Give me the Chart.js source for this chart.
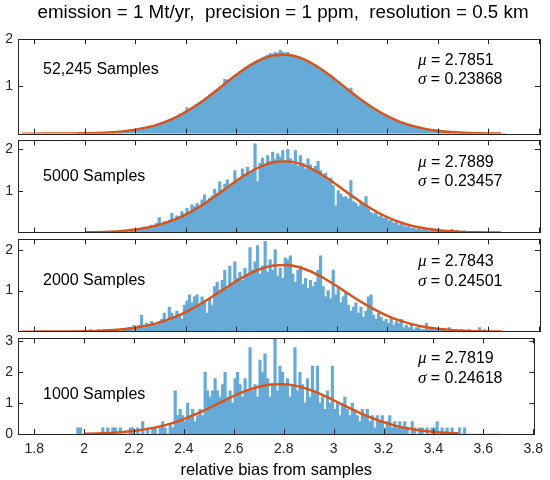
<!DOCTYPE html>
<html>
<head>
<meta charset="utf-8">
<script src="https://cdn.jsdelivr.net/npm/chart.js@4.4.1/dist/chart.umd.min.js"></script>
<style>
  html, body { margin: 0; padding: 0; background: #fff; }
  #wrap { position: relative; width: 550px; height: 480px; overflow: hidden; }
  #wrap canvas { position: absolute; left: 0; }
</style>
</head>
<body>
<div id="wrap">
  <canvas id="p1" width="550" height="147" style="top:0px"></canvas>
  <canvas id="p2" width="550" height="119" style="top:127px"></canvas>
  <canvas id="p3" width="550" height="119" style="top:226px"></canvas>
  <canvas id="p4" width="550" height="155" style="top:325px"></canvas>
</div>
<script>
// ── data ───────────────────────────────────────────────────────────────────
const titleText = 'emission = 1 Mt/yr,  precision = 1 ppm,  resolution = 0.5 km';
const xTitle = 'relative bias from samples';
const sampleLabels = ['52,245 Samples', '5000 Samples', '2000 Samples', '1000 Samples'];
const muText = ['2.7851', '2.7889', '2.7843', '2.7819'];
const sigmaText = ['0.23868', '0.23457', '0.24501', '0.24618'];
const xTicks = [1.8, 2, 2.2, 2.4, 2.6, 2.8, 3, 3.2, 3.4, 3.6, 3.8];

// histogram bins: 0.01 wide, first centre 1.975
const binFirst = 1.975, binStep = 0.01;

const hist52245 = [
  0, 0.01, 0.01, 0.01, 0.01, 0.01, 0.01, 0.02, 0.01, 0.02,
  0.02, 0.02, 0.03, 0.03, 0.03, 0.04, 0.04, 0.05, 0.05, 0.06,
  0.07, 0.07, 0.08, 0.09, 0.10, 0.11, 0.12, 0.13, 0.15, 0.16,
  0.17, 0.19, 0.21, 0.22, 0.24, 0.27, 0.29, 0.31, 0.34, 0.36,
  0.39, 0.42, 0.46, 0.55, 0.51, 0.55, 0.58, 0.62, 0.66, 0.70,
  0.73, 0.77, 0.82, 0.86, 0.90, 0.94, 0.98, 1.02, 1.15, 1.13,
  1.15, 1.19, 1.23, 1.27, 1.31, 1.35, 1.39, 1.43, 1.46, 1.49,
  1.52, 1.55, 1.57, 1.60, 1.63, 1.66, 1.69, 1.68, 1.72, 1.70,
  1.76, 1.72, 1.70, 1.72, 1.67, 1.66, 1.64, 1.61, 1.59, 1.57,
  1.55, 1.52, 1.49, 1.46, 1.42, 1.39, 1.35, 1.31, 1.28, 1.24,
  1.21, 1.17, 1.13, 1.09, 1.05, 1.00, 0.96, 0.92, 0.96, 0.83,
  0.79, 0.75, 0.71, 0.67, 0.64, 0.60, 0.56, 0.53, 0.49, 0.46,
  0.43, 0.40, 0.37, 0.35, 0.32, 0.30, 0.28, 0.26, 0.24, 0.22,
  0.20, 0.18, 0.17, 0.15, 0.14, 0.13, 0.11, 0.10, 0.09, 0.08,
  0.08, 0.07, 0.06, 0.06, 0.05, 0.05, 0.04, 0.04, 0.03, 0.03,
  0.03, 0.02, 0.02, 0.02, 0.02, 0.01, 0.01, 0.01, 0.01, 0.01,
  0.01, 0.01, 0.01, 0, 0, 0, 0, 0, 0, 0
];

const hist5000 = [
  0, 0, 0, 0, 0, 0, 0, 0, 0, 0,
  0, 0, 0, 0, 0, 0, 0.02, 0, 0.02, 0.04,
  0.02, 0.06, 0.04, 0.08, 0.10, 0.06, 0.14, 0.12, 0.10, 0.18,
  0.14, 0.22, 0.36, 0.18, 0.26, 0.24, 0.30, 0.46, 0.28, 0.40,
  0.36, 0.50, 0.44, 0.58, 0.50, 0.66, 0.62, 0.70, 0.64, 0.78,
  0.90, 0.72, 0.82, 0.88, 1.04, 0.94, 1.22, 1.02, 1.16, 1.26,
  1.10, 1.18, 1.48, 1.24, 1.30, 1.52, 1.38, 1.56, 1.42, 1.46,
  2.12, 1.22, 1.66, 1.78, 1.60, 1.84, 1.70, 1.92, 1.74, 1.88,
  1.80, 1.96, 1.70, 1.98, 1.76, 1.64, 1.96, 1.58, 1.84, 1.66,
  1.52, 1.76, 1.62, 1.50, 1.58, 1.70, 1.48, 1.36, 1.42, 1.24,
  1.30, 1.12, 0.64, 1.00, 0.92, 0.84, 0.86, 0.80, 1.24, 0.74,
  0.70, 0.62, 0.72, 0.66, 0.86, 0.56, 0.48, 0.44, 0.50, 0.38,
  0.42, 0.34, 0.36, 0.28, 0.30, 0.22, 0.26, 0.18, 0.20, 0.16,
  0.14, 0.18, 0.10, 0.12, 0.08, 0.10, 0.06, 0.08, 0.06, 0.04,
  0.06, 0.04, 0.06, 0.02, 0.04, 0.04, 0.02, 0.04, 0.08, 0.02,
  0.04, 0.02, 0.02, 0.04, 0, 0.02, 0.02, 0, 0.02, 0,
  0.02, 0, 0, 0, 0, 0, 0, 0, 0, 0
];

const hist2000 = [
  0, 0, 0, 0, 0, 0.05, 0, 0, 0.05, 0,
  0.05, 0, 0, 0, 0.05, 0, 0, 0, 0.05, 0.05,
  0.10, 0.05, 0.15, 0.10, 0.15, 0.40, 0.10, 0.20, 0.15, 0.25,
  0.20, 0.15, 0.25, 0.30, 0.45, 0.30, 0.60, 0.45, 0.35, 0.50,
  0.40, 0.30, 0.65, 0.75, 0.90, 0.70, 0.85, 0.90, 0.65, 0.85,
  0.75, 0.45, 0.80, 0.65, 1.10, 1.20, 1.00, 1.25, 1.50, 1.05,
  1.60, 1.15, 1.70, 1.30, 1.45, 1.25, 1.55, 1.35, 2.05, 1.50,
  1.70, 2.10, 1.40, 1.60, 2.20, 1.45, 1.75, 1.50, 2.00, 1.35,
  1.55, 1.30, 1.80, 1.75, 1.85, 1.40, 1.20, 1.50, 1.60, 1.15,
  1.30, 1.05, 1.25, 1.10, 1.20, 1.50, 1.85, 1.10, 0.85, 1.00,
  0.80, 1.50, 0.90, 1.05, 0.70, 0.85, 0.95, 0.65, 0.50, 0.60,
  0.70, 0.45, 0.60, 0.35, 0.50, 0.85, 0.90, 0.40, 0.30, 0.45,
  0.35, 0.25, 0.30, 0.20, 0.35, 0.15, 0.25, 0.20, 0.30, 0.10,
  0.15, 0.10, 0.20, 0.05, 0.10, 0.10, 0.05, 0.05, 0.20, 0.05,
  0.10, 0.05, 0.05, 0, 0.05, 0.05, 0, 0.10, 0.05, 0,
  0.05, 0, 0.05, 0, 0, 0.05, 0, 0, 0, 0.10,
  0, 0.05, 0, 0, 0, 0, 0, 0, 0, 0
];

const hist1000 = [
  0.2, 0.2, 0, 0, 0, 0, 0, 0, 0, 0,
  0.2, 0, 0.2, 0, 0.2, 0.2, 0, 0.2, 0, 0,
  0, 0.2, 0.2, 0, 0.2, 0, 0.4, 0, 0.2, 0,
  0.2, 0.2, 0, 0.2, 0.4, 0.2, 0, 0.3, 0.2, 1.4,
  0.6, 0.8, 0.6, 0.4, 1.0, 0.6, 0.8, 0.4, 0.6, 0.8,
  0.6, 2.0, 1.4, 1.2, 1.4, 1.8, 1.4, 1.2, 1.6, 2.0,
  1.2, 1.4, 1.0, 1.8, 2.0, 1.6, 1.2, 1.8, 1.4, 2.8,
  1.4, 1.6, 1.2, 2.4, 2.0, 2.6, 1.8, 1.2, 1.6, 3.1,
  1.4, 2.2, 2.0, 1.6, 1.8, 1.2, 1.6, 2.8, 1.4, 2.0,
  1.6, 1.0, 1.8, 1.2, 2.2, 1.4, 2.2, 1.0, 1.2, 0.8,
  1.4, 1.0, 2.2, 0.8, 1.0, 0.6, 1.0, 1.2, 0.8, 0.6,
  1.0, 0.8, 0.6, 0.4, 0.8, 0.6, 0.8, 0.4, 0.6, 0.2,
  0.6, 0.4, 0.6, 0.2, 0.4, 0.6, 0.2, 0.4, 0.2, 0.4,
  0.2, 0.4, 0.2, 0, 0.4, 0.2, 0, 0.2, 0.2, 0,
  0.2, 0, 0.2, 0.2, 0.4, 0, 0.2, 0, 0.2, 0,
  0.2, 0, 0, 0.2, 0, 0.2, 0, 0, 0, 0,
  0, 0, 0, 0, 0, 0, 0, 0, 0, 0
];

// fitted normal curves, sampled every 0.05
const fitX = [
  1.75, 1.80, 1.85, 1.90, 1.95, 2.00, 2.05, 2.10, 2.15, 2.20,
  2.25, 2.30, 2.35, 2.40, 2.45, 2.50, 2.55, 2.60, 2.65, 2.70,
  2.75, 2.80, 2.85, 2.90, 2.95, 3.00, 3.05, 3.10, 3.15, 3.20,
  3.25, 3.30, 3.35, 3.40, 3.45, 3.50, 3.55, 3.60, 3.65
];
const fit52245 = [
  0, 0, 0.001, 0.002, 0.004, 0.008, 0.015, 0.027, 0.048, 0.083,
  0.136, 0.213, 0.318, 0.455, 0.624, 0.819, 1.029, 1.238, 1.424, 1.569,
  1.653, 1.668, 1.610, 1.488, 1.316, 1.114, 0.902, 0.700, 0.519, 0.369,
  0.250, 0.163, 0.101, 0.060, 0.034, 0.019, 0.010, 0.005, 0.002
];
const fit5000 = [
  null, null, null, null, null, 0.006, 0.012, 0.023, 0.042, 0.073,
  0.121, 0.194, 0.295, 0.430, 0.599, 0.796, 1.012, 1.230, 1.427, 1.583,
  1.678, 1.699, 1.645, 1.521, 1.344, 1.135, 0.916, 0.706, 0.521, 0.367,
  0.247, 0.159, 0.097, 0.057, 0.032, 0.017, 0.009, 0.004, 0.002
];
const fit2000 = [
  0.0002, 0.0005, 0.001, 0.002, 0.005, 0.010, 0.018, 0.033, 0.057, 0.095,
  0.151, 0.231, 0.339, 0.477, 0.643, 0.831, 1.032, 1.228, 1.402, 1.535,
  1.612, 1.625, 1.570, 1.456, 1.295, 1.105, 0.904, 0.710, 0.535, 0.386,
  0.267, 0.178, 0.113, 0.069, 0.041, 0.023, 0.012, 0.006, 0.003
];
const fit1000 = [
  null, null, null, null, null, 0.010, 0.019, 0.035, 0.060, 0.099,
  0.157, 0.238, 0.347, 0.486, 0.653, 0.841, 1.040, 1.233, 1.404, 1.533,
  1.607, 1.616, 1.560, 1.445, 1.284, 1.095, 0.896, 0.704, 0.530, 0.383,
  0.266, 0.177, 0.113, 0.069, 0.041, 0.023, null, null, null
];

// ── drawing ────────────────────────────────────────────────────────────────
const FONT = '"Liberation Sans", Arial, sans-serif';
const INK = '#262626';
Chart.defaults.font.family = FONT;
Chart.defaults.color = INK;

const binCenters = hist52245.map((_, i) => +(binFirst + i * binStep).toFixed(3));
const xMin = 1.735, xMax = 3.805;

// box, inward ticks and the text in each panel
function makeFrame(cfg) {
  return {
    id: 'frame',
    afterDatasetsDraw(chart) {
      const { ctx, chartArea: a, scales: { x, y } } = chart;
      ctx.save();
      ctx.strokeStyle = INK;
      ctx.lineWidth = 1;
      ctx.beginPath();
      xTicks.forEach(v => {
        const px = Math.round(x.getPixelForValue(v)) + 0.5;
        ctx.moveTo(px, a.top); ctx.lineTo(px, a.top + 5);
        ctx.moveTo(px, a.bottom); ctx.lineTo(px, a.bottom - 5);
      });
      cfg.yTicks.forEach(v => {
        const py = Math.round(y.getPixelForValue(v)) + 0.5;
        ctx.moveTo(a.left, py); ctx.lineTo(a.left + 5, py);
        ctx.moveTo(a.right, py); ctx.lineTo(a.right - 5, py);
      });
      ctx.stroke();
      ctx.strokeRect(Math.round(a.left) + 0.5, Math.round(a.top) + 0.5,
                     Math.round(a.right - a.left), Math.round(a.bottom - a.top));

      ctx.fillStyle = '#000';
      ctx.textBaseline = 'middle';
      if (cfg.title) {
        ctx.textAlign = 'center';
        ctx.font = '18.8px ' + FONT;
        ctx.fillText(cfg.title, (a.left + a.right) / 2 + 4, 13);
      }
      ctx.textAlign = 'left';
      ctx.font = '16px ' + FONT;
      ctx.fillText(cfg.label, 43, a.top + cfg.labelDy);

      const tx = 418;
      [['\u03bc', cfg.mu, cfg.muDy], ['\u03c3', cfg.sigma, cfg.sigDy]].forEach(([g, val, dy]) => {
        ctx.font = 'italic 17px "Liberation Serif", serif';
        ctx.fillText(g, tx, a.top + dy);
        const w = ctx.measureText(g).width;
        ctx.font = '16px ' + FONT;
        ctx.fillText(' = ' + val, tx + w, a.top + dy);
      });
      ctx.restore();
    }
  };
}

function makePanel(id, hist, fit, cfg) {
  const showX = !!cfg.showX;
  return new Chart(document.getElementById(id), {
    type: 'bar',
    data: {
      datasets: [
        {
          type: 'line',
          data: fitX.map((x, i) => ({ x, y: fit[i] })),
          borderColor: '#D95319',
          borderWidth: 2.4,
          pointRadius: 0,
          cubicInterpolationMode: 'monotone',
          order: 0
        },
        {
          type: 'bar',
          data: binCenters.map((x, i) => ({ x, y: hist[i] })),
          backgroundColor: '#66AAD7',
          borderWidth: 0,
          barPercentage: 1,
          categoryPercentage: 1,
          order: 1
        }
      ]
    },
    options: {
      responsive: false,
      animation: false,
      events: [],
      layout: { padding: cfg.padding },
      plugins: { legend: { display: false }, tooltip: { enabled: false } },
      scales: {
        x: {
          type: 'linear', min: xMin, max: xMax, offset: false, display: showX,
          afterBuildTicks: s => { s.ticks = xTicks.map(v => ({ value: v })); },
          afterFit: s => { if (showX) s.height = 46; },
          grid: { display: false, drawTicks: false }, border: { display: false },
          ticks: { padding: 7, autoSkip: false, maxRotation: 0, font: { size: 14 }, callback: v => String(v) },
          title: { display: showX, text: xTitle, color: '#000', font: { size: 16.5 }, padding: { top: 0, bottom: 0 } }
        },
        y: {
          min: 0, max: cfg.ymax,
          afterBuildTicks: s => { s.ticks = cfg.yTicks.map(v => ({ value: v })); },
          afterFit: s => { s.width = 18; },
          grid: { display: false, drawTicks: false }, border: { display: false },
          ticks: { padding: 5, font: { size: 14 }, callback: v => String(v) }
        }
      }
    },
    plugins: [makeFrame(cfg)]
  });
}

makePanel('p1', hist52245, fit52245, {
  padding: { top: 39, bottom: 10, left: 0, right: 10 }, ymax: 2, yTicks: [1, 2],
  title: titleText, label: sampleLabels[0], mu: muText[0], sigma: sigmaText[0],
  labelDy: 31, muDy: 22, sigDy: 41
});
makePanel('p2', hist5000, fit5000, {
  padding: { top: 10, bottom: 10, left: 0, right: 10 }, ymax: 2.2, yTicks: [1, 2],
  label: sampleLabels[1], mu: muText[1], sigma: sigmaText[1],
  labelDy: 36, muDy: 22, sigDy: 41
});
makePanel('p3', hist2000, fit2000, {
  padding: { top: 10, bottom: 10, left: 0, right: 10 }, ymax: 2.25, yTicks: [1, 2],
  label: sampleLabels[2], mu: muText[2], sigma: sigmaText[2],
  labelDy: 41, muDy: 22, sigDy: 42
});
makePanel('p4', hist1000, fit1000, {
  padding: { top: 10, bottom: 0, left: 0, right: 10 }, ymax: 3.1, yTicks: [0, 1, 2, 3],
  label: sampleLabels[3], mu: muText[3], sigma: sigmaText[3],
  labelDy: 56, muDy: 20, sigDy: 40, showX: true
});
</script>
</body>
</html>
